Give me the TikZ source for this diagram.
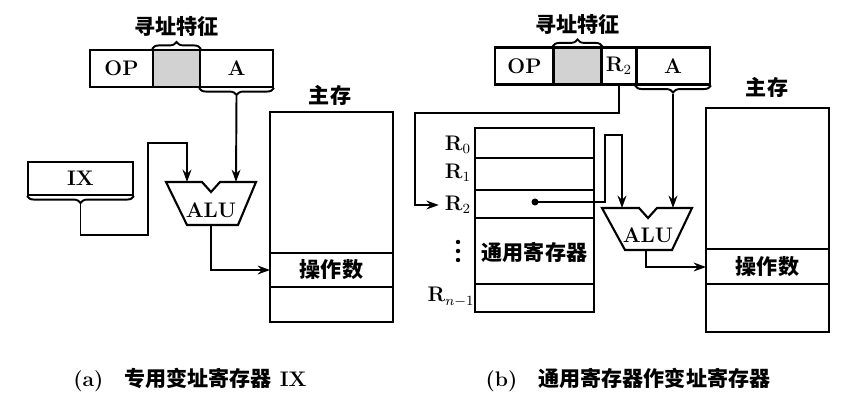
\documentclass[tikz,border=0pt]{standalone}
\usepackage{fontspec}
\newfontfamily\cjk{Noto Sans CJK SC}
\usetikzlibrary{positioning, calc, arrows.meta, decorations.pathreplacing}

\tikzset{
	field/.style={draw, line width=1.2pt, minimum height=0.74cm, inner sep=0pt, font=\bfseries\large},
	graybox/.style={field, fill=gray!35},
	cell/.style={draw, line width=1.2pt, inner sep=0pt},
	line/.style={line width=1.1pt},
	arr/.style={line width=1.1pt, -{Stealth[length=7pt,width=5pt]}},
	brc/.style={line width=1.1pt, decorate, decoration={brace, amplitude=4pt}},
	zh/.style={font=\cjk\bfseries\large},
	alu/.style={draw, line width=1.2pt, fill=white}
}

\begin{document}
\begin{tikzpicture}[x=0.02cm, y=-0.02cm]
	\useasboundingbox (0,0) rectangle (861,404);

	% (a) instruction
	\node[field, minimum width=1.26cm] (opa) at (121.5,68.5) {OP};
	\node[graybox, minimum width=0.94cm] (gra) at (176.5,68.5) {};
	\node[field, minimum width=1.46cm] (aa) at (236.5,68.5) {A};
	\draw[brc] (gra.north west) -- (gra.north east) node[midway, above=3pt, zh] (tza) {寻址特征};
	\draw[brc] (aa.south east) -- (aa.south west);
	\coordinate (atipa) at ($(aa.south)+(0,8)$);

	% IX
	\node[field, minimum width=2.1cm, minimum height=0.66cm] (ix) at (80.5,178.5) {IX};
	\draw[brc] (ix.south east) -- (ix.south west);
	\coordinate (ixtip) at ($(ix.south)+(0,8)$);

	% ALU (a)
	\draw[alu] (166,182) -- (202,182) -- (211,192) -- (220,182) -- (256,182) -- (238,225) -- (187,225) -- cycle;
	\node[font=\bfseries\large, inner sep=0pt] (alua) at (211,210) {ALU};
	\coordinate (alual) at (187,182);
	\coordinate (aluar) at (236,182);
	\coordinate (aluao) at (211,225);

	\draw[arr] (atipa) -- (aluar);
	\draw[arr] (ixtip) |- (148,235) |- (187,143) -- (alual);

	% main memory (a)
	\draw[cell] (270,112) rectangle (393,322);
	\draw[cell] (270,253) -- (393,253) (270,287) -- (393,287);
	\node[zh] (opnda) at (331.5,270) {操作数};
	\node[zh] (mema) at (330,95) {主存};
	\draw[arr] (aluao) |- (opnda.west -| 270,0);

	% (b) instruction
	\node[field, minimum width=1.18cm] (opb) at (524.5,66) {OP};
	\node[graybox, minimum width=0.96cm] (grb) at (577.5,66) {};
	\node[field, minimum width=0.7cm] (r2f) at (619,66) {R$_2$};
	\node[field, minimum width=1.48cm] (ab) at (673,66) {A};
	\draw[brc] (grb.north west) -- (grb.north east) node[midway, above=3pt, zh] (tzb) {寻址特征};
	\draw[brc] (ab.south east) -- (ab.south west);
	\coordinate (atipb) at ($(ab.south)+(0,8)$);

	% registers
	\draw[cell] (475,128) rectangle (594,312);
	\foreach \yy in {158,190,218,284}
		\draw[cell] (475,\yy) -- (594,\yy);
	\node[font=\bfseries\large] (rr0) at (458,145) {R$_0$};
	\node[font=\bfseries\large] (rr1) at (458,173) {R$_1$};
	\node[font=\bfseries\large] (rr2) at (458,205) {R$_2$};
	\foreach \yy in {242,251,260}
		\fill (458,\yy) circle (2.2);
	\node[font=\bfseries\large] (rrn) at (451,297) {R$_{n-1}$};
	\node[zh] (gpr) at (534.5,252) {通用寄存器};
	\fill (535,202) circle (3.5) coordinate (dot);

	\draw[arr] (r2f.south) |- (415,113) |- (rr2.west);

	% ALU (b)
	\draw[alu] (602,208) -- (639,208) -- (648,218) -- (657,208) -- (692,208) -- (672,250) -- (625,250) -- cycle;
	\node[font=\bfseries\large, inner sep=0pt] (alub) at (648,235) {ALU};
	\coordinate (alubl) at (622,208);
	\coordinate (alubr) at (673,208);
	\coordinate (alubo) at (646,250);

	\draw[arr] (atipb) -- (alubr);
	\draw[arr] (dot) -| (605,135) -| (alubl);

	% main memory (b)
	\draw[cell] (706,108) rectangle (829,332);
	\draw[cell] (706,249) -- (829,249) (706,284) -- (829,284);
	\node[zh] (opndb) at (767.5,267) {操作数};
	\node[zh] (memb) at (767,87) {主存};
	\draw[arr] (alubo) |- (opndb.west -| 706,0);

	% captions
	\node[font=\bfseries\large] (capa) at (190,380) {(a)\quad{\cjk 专用变址寄存器} IX};
	\node[font=\bfseries\large] (capb) at (628,380) {(b)\quad{\cjk 通用寄存器作变址寄存器}};
\end{tikzpicture}
\end{document}
